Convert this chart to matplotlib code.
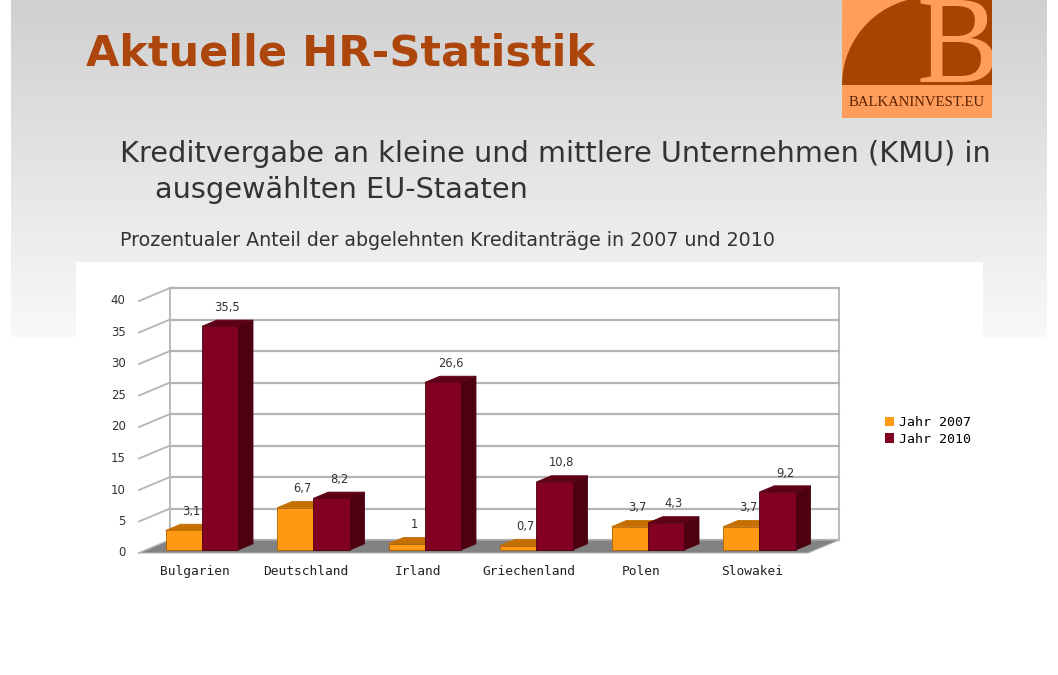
import numpy as np
import matplotlib.pyplot as plt
from matplotlib.patches import Rectangle, Polygon, Wedge, Patch

W, H = 1058, 675

countries = ["Bulgarien", "Deutschland", "Irland", "Griechenland", "Polen", "Slowakei"]
jahr_2007 = [3.1, 6.7, 1.0, 0.7, 3.7, 3.7]
jahr_2010 = [35.5, 8.2, 26.6, 10.8, 4.3, 9.2]
series_labels = ["Jahr 2007", "Jahr 2010"]
y_ticks = [0, 5, 10, 15, 20, 25, 30, 35, 40]

TITLE = "Aktuelle HR-Statistik"
SUB1 = "Kreditvergabe an kleine und mittlere Unternehmen (KMU) in"
SUB2 = "ausgewählten EU-Staaten"
SUB3 = "Prozentualer Anteil der abgelehnten Kreditanträge in 2007 und 2010"

# colours
BROWN = "#AD460C"
ORANGE, ORANGE_TOP, ORANGE_SIDE = "#FF9A12", "#C56F00", "#B06000"
RED, RED_TOP, RED_SIDE = "#820022", "#5E0018", "#4C0012"
GRID = "#B4B4B4"
FLOOR = "#828282"
LOGO_LIGHT = "#FF9D5C"
LOGO_DARK = "#A64400"


def fx(px):
    return px / W


def fy(py):
    return 1 - py / H


fig = plt.figure(figsize=(W / 100, H / 100), dpi=100)
fig.patch.set_facecolor("white")

# ── slide background ─────────────────────────────────────────────────────────
bg = fig.add_axes([0, 0, 1, 1])
grad = np.linspace(0.815, 0.975, 256)[:, None] * np.ones((1, 4))
bg.imshow(np.dstack([grad, grad, grad]), extent=(11, 1047, 337, 0),
          aspect="auto", interpolation="bilinear")
bg.add_patch(Rectangle((76, 262), 907, 420, fc="white", ec="none"))
bg.set_xlim(0, W)
bg.set_ylim(H, 0)
bg.axis("off")

fig.text(fx(86), fy(65), TITLE, fontsize=31, fontweight="bold",
         color=BROWN, va="baseline", ha="left")
fig.text(fx(120), fy(162), SUB1, fontsize=20.7, color="#333333",
         va="baseline", ha="left")
fig.text(fx(155), fy(198), SUB2, fontsize=20.7, color="#333333",
         va="baseline", ha="left")
fig.text(fx(120), fy(246), SUB3, fontsize=13.7, color="#333333",
         va="baseline", ha="left")

# ── logo ─────────────────────────────────────────────────────────────────────
lg = fig.add_axes([fx(842), fy(118), 150 / W, 118 / H])
lg.set_xlim(0, 150)
lg.set_ylim(0, 118)
lg.axis("off")
lg.add_patch(Rectangle((0, 0), 150, 118, fc=LOGO_LIGHT, ec="none"))
lg.add_patch(Rectangle((88, 33), 62, 85, fc=LOGO_DARK, ec="none"))
lg.add_patch(Wedge((88, 33), 88, 90, 180, fc=LOGO_DARK, ec="none"))
lg.text(74, 36, "B", fontsize=89, family="Liberation Serif", color=LOGO_LIGHT,
        va="baseline", ha="left", clip_on=True)
lg.text(75, 15, "BALKANINVEST.EU", fontsize=10.6, family="Liberation Serif",
        color="#5A2200", ha="center", va="center")

# ── chart ────────────────────────────────────────────────────────────────────
ax = fig.add_axes([fx(139), fy(553), 669 / W, 252 / H])
n = len(countries)
ax.set_xlim(0, n)
ax.set_ylim(0, 40)
ax.axis("off")

DX, DY = 0.278, 2.06          # depth of the chart box (data units)
ox, oy = 0.23 * DX, 0.23 * DY  # bar front offset
bdx, bdy = 0.48 * DX, 0.48 * DY  # bar depth
bw = 0.325

# walls and grid
for v in y_ticks:
    ax.plot([0, DX], [v, v + DY], color=GRID, lw=1.3, clip_on=False, zorder=1)
    ax.plot([DX, n + DX], [v + DY, v + DY], color=GRID, lw=1.6,
            clip_on=False, zorder=1)
    ax.text(-0.12, v, str(v), ha="right", va="center", fontsize=8.5,
            color="#333333")
top = y_ticks[-1]
for xb in (DX, n + DX):
    ax.plot([xb, xb], [DY, top + DY], color=GRID, lw=1.3, clip_on=False,
            zorder=1)

ax.add_patch(Polygon([(0, 0), (n, 0), (n + DX, DY), (DX, DY)], closed=True,
                     fc=FLOOR, ec=GRID, lw=0.8, clip_on=False, zorder=2))


def bar3d(x0, h, front, top_c, side, z):
    y0 = oy
    ax.add_patch(Polygon([(x0 + bw, y0), (x0 + bw + bdx, y0 + bdy),
                          (x0 + bw + bdx, y0 + h + bdy), (x0 + bw, y0 + h)],
                         closed=True, fc=side, ec=side, lw=0.6,
                         clip_on=False, zorder=z))
    ax.add_patch(Rectangle((x0, y0), bw, h, fc=front, ec=side, lw=0.6,
                           clip_on=False, zorder=z + 0.1))
    ax.add_patch(Polygon([(x0, y0 + h), (x0 + bw, y0 + h),
                          (x0 + bw + bdx, y0 + h + bdy), (x0 + bdx, y0 + h + bdy)],
                         closed=True, fc=top_c, ec=top_c, lw=0.6,
                         clip_on=False, zorder=z + 0.2))
    lab = f"{h:g}".replace(".", ",")
    ax.text(x0 + bw / 2 + bdx / 2, y0 + h + bdy + 1.0, lab, ha="center",
            va="bottom", fontsize=8.3, color="#333333", zorder=20)


for i in range(n):
    xc = i + 0.5 + ox
    bar3d(xc - bw, jahr_2007[i], ORANGE, ORANGE_TOP, ORANGE_SIDE, 3 + i)
    bar3d(xc, jahr_2010[i], RED, RED_TOP, RED_SIDE, 3.5 + i)
    ax.text(i + 0.5, -3.0, countries[i], ha="center", va="center",
            family="DejaVu Sans Mono", fontsize=9.3, color="#222222")

fig.legend(handles=[Patch(fc=ORANGE), Patch(fc=RED)], labels=series_labels,
           loc="center left", bbox_to_anchor=(fx(885), fy(431)), frameon=False,
           prop={"family": "DejaVu Sans Mono", "size": 9.5},
           handlelength=0.7, handleheight=0.7, handletextpad=0.35,
           labelspacing=0.25, borderpad=0, borderaxespad=0)

fig.savefig("out.png", dpi=100, facecolor=fig.get_facecolor())
